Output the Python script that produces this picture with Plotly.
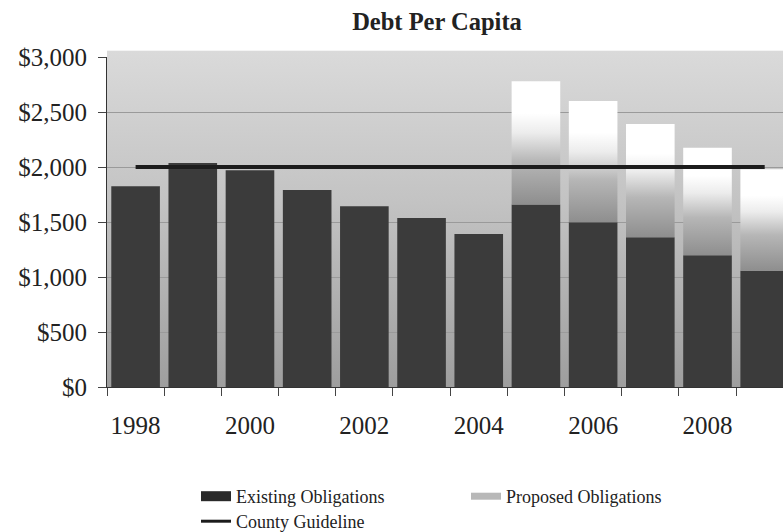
import base64
import plotly.graph_objects as go

# Debt per capita by fiscal year
years = [1998, 1999, 2000, 2001, 2002, 2003, 2004, 2005, 2006, 2007, 2008, 2009]
existing = [1825, 2037, 1970, 1790, 1643, 1537, 1391, 1660, 1497, 1361, 1197, 1057]

# Proposed obligations stack on top of existing debt from 2005 onwards
proposed_years = [2005, 2006, 2007, 2008, 2009]
proposed = [1120, 1103, 1029, 978, 923]

guideline_value = 2000
guideline = [guideline_value] * len(years)

y_ticks = [0, 500, 1000, 1500, 2000, 2500, 3000]
y_tick_labels = [f"${v:,}" for v in y_ticks]
x_label_years = [1998, 2000, 2002, 2004, 2006, 2008]

BAR_W = 0.85
SERIF = "Liberation Serif, Times New Roman, serif"

existing_by_year = dict(zip(years, existing))

fig = go.Figure()

fig.add_trace(go.Bar(
    x=years, y=existing, width=BAR_W,
    marker=dict(color="#3b3b3b", line=dict(width=0)),
    showlegend=False, hoverinfo="skip",
))

# proposed segments: one shaded rectangle per year, pale at the top
proposed_scale = [[0.0, "#8e8e8e"], [0.35, "#b6b6b6"], [0.58, "#ececec"],
                  [0.74, "#ffffff"], [1.0, "#ffffff"]]
for yr, val in zip(proposed_years, proposed):
    base = existing_by_year[yr]
    top = base + val
    x0, x1 = yr - BAR_W / 2, yr + BAR_W / 2
    fig.add_trace(go.Scatter(
        x=[x0, x1, x1, x0, x0], y=[base, base, top, top, base],
        mode="lines", line=dict(width=0), fill="toself",
        fillgradient=dict(type="vertical", colorscale=proposed_scale),
        showlegend=False, hoverinfo="skip",
    ))

fig.add_trace(go.Scatter(
    x=years, y=guideline, mode="lines",
    line=dict(color="#1c1c1c", width=4),
    showlegend=False, hoverinfo="skip",
))

# legend entries
fig.add_trace(go.Scatter(x=[None], y=[None], mode="lines", name="Existing Obligations",
                         line=dict(color="#2a2a2a", width=11), legend="legend"))
fig.add_trace(go.Scatter(x=[None], y=[None], mode="lines", name="Proposed Obligations",
                         line=dict(color="#b8b8b8", width=7), legend="legend"))
fig.add_trace(go.Scatter(x=[None], y=[None], mode="lines", name="County Guideline",
                         line=dict(color="#1c1c1c", width=3), legend="legend2"))

# vertical grey wash behind the plotting area
svg = ('<svg xmlns="http://www.w3.org/2000/svg" width="100" height="100" preserveAspectRatio="none">'
       '<defs><linearGradient id="g" x1="0" y1="0" x2="0" y2="1">'
       '<stop offset="0" stop-color="#dadada"/><stop offset="0.45" stop-color="#c3c3c3"/>'
       '<stop offset="1" stop-color="#9e9e9e"/></linearGradient></defs>'
       '<rect width="100" height="100" fill="url(#g)"/></svg>')
bg_src = "data:image/svg+xml;base64," + base64.b64encode(svg.encode()).decode()

legend_font = dict(size=18, family=SERIF, color="#222222")

fig.update_layout(
    width=783, height=532,
    margin=dict(l=107, r=0, t=57, b=145),
    paper_bgcolor="white", plot_bgcolor="rgba(0,0,0,0)",
    barmode="overlay",
    font=dict(family=SERIF, color="#222222"),
    title=dict(text="<b>Debt Per Capita</b>", x=437 / 783, xanchor="center",
               y=1 - 21 / 532, yanchor="middle", font=dict(size=24.5, family=SERIF, color="#222222")),
    images=[dict(source=bg_src, xref="paper", yref="paper", x=0, y=1.02, sizex=1, sizey=1.02,
                 xanchor="left", yanchor="top", sizing="stretch", layer="below")],
    legend=dict(orientation="h", xref="container", yref="container",
                x=196 / 783, y=1 - 478 / 532, xanchor="left", yanchor="top",
                entrywidth=225, entrywidthmode="pixels",
                font=legend_font, bgcolor="rgba(0,0,0,0)"),
    legend2=dict(orientation="h", xref="container", yref="container",
                 x=196 / 783, y=1 - 503 / 532, xanchor="left", yanchor="top",
                 font=legend_font, bgcolor="rgba(0,0,0,0)"),
)

fig.update_xaxes(
    range=[1997.5, 2009.32],
    tickvals=x_label_years, ticktext=[str(y) for y in x_label_years],
    ticks="", showgrid=False, zeroline=False,
    showline=True, linecolor="#333333", linewidth=1,
    tickfont=dict(size=25, family=SERIF, color="#222222"),
    ticklabelstandoff=16,
    minor=dict(tickvals=[y - 0.5 for y in years] + [years[-1] + 0.5],
               ticks="outside", ticklen=8, tickcolor="#444444", tickwidth=1, showgrid=False),
)

fig.update_yaxes(
    range=[0, 3000], tickvals=y_ticks, ticktext=y_tick_labels,
    ticks="outside", ticklen=8, tickcolor="#444444",
    showgrid=True, gridcolor="#9a9a9a", gridwidth=1, zeroline=False,
    showline=True, linecolor="#333333", linewidth=1,
    tickfont=dict(size=25, family=SERIF, color="#222222"),
    ticklabelstandoff=6,
)

fig.write_html("out.html")
